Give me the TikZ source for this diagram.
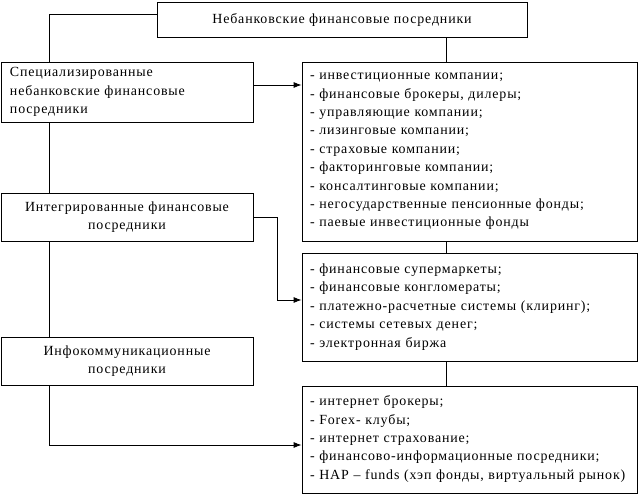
\documentclass[tikz,border=0pt]{standalone}
\usepackage{fontspec}
\setmainfont[LetterSpace=6]{Liberation Serif}
\usetikzlibrary{arrows.meta}
\begin{document}
\begin{tikzpicture}[x=1bp,y=-1bp,
  box/.style={draw, line width=0.8bp, fill=white, inner ysep=0pt,
    font=\fontsize{14}{18.4}\selectfont},
  listbox/.style={box, inner xsep=8bp, text width=319bp, minimum width=335bp, align=left},
  leftbox/.style={box, inner xsep=9bp, text width=234bp, minimum width=252bp},
  arr/.style={line width=0.8bp, -{Latex[length=8bp,width=6bp]}},
  ln/.style={line width=0.8bp}]
\useasboundingbox (0,0) rectangle (638,494);
\coordinate (L) at (49,0);
\coordinate (R) at (446,0);
\coordinate (y14) at (0,14);
\coordinate (y85) at (0,85);
\coordinate (y300) at (0,300);
\coordinate (y445) at (0,445);

\node[box, inner xsep=0pt, minimum width=370bp, minimum height=35bp] (top) at (342,19.5)
  {\raisebox{2.5bp}{Небанковские финансовые посредники}};

\node[leftbox, align=left, minimum height=60bp] (spec) at (127,92)
  {Специализированные\\небанковские финансовые\\посредники};
\node[leftbox, align=center, minimum height=48bp] (integ) at (127,217)
  {Интегрированные финансовые\\посредники};
\node[leftbox, align=center, minimum height=48bp] (info) at (127,361)
  {Инфокоммуникационные\\посредники};

\node[listbox, minimum height=179bp] (list1) at (469.5,151.5)
  {\raisebox{3bp}{\parbox[b]{319bp}{\raggedright\baselineskip=18.4bp
  - инвестиционные компании;\\
  - финансовые брокеры, дилеры;\\
  - управляющие компании;\\
  - лизинговые компании;\\
  - страховые компании;\\
  - факторинговые компании;\\
  - консалтинговые компании;\\
  - негосударственные пенсионные фонды;\\
  - паевые инвестиционные фонды}}};
\node[listbox, minimum height=108bp] (list2) at (469.5,307)
  {\raisebox{2bp}{\parbox[b]{319bp}{\raggedright\baselineskip=18.4bp
  - финансовые супермаркеты;\\
  - финансовые конгломераты;\\
  - платежно-расчетные системы (клиринг);\\
  - системы сетевых денег;\\
  - электронная биржа}}};
\node[listbox, minimum height=107bp] (list3) at (469.5,439.5)
  {\raisebox{4bp}{\parbox[b]{319bp}{\raggedright\baselineskip=18.4bp
  - интернет брокеры;\\
  - Forex- клубы;\\
  - интернет страхование;\\
  - финансово-информационные посредники;\\
  - HAP – funds (хэп фонды, виртуальный рынок)}}};

% left trunk
\draw[ln] (top.west |- y14) -- (L |- y14) -- (L |- spec.north);
\draw[ln] (L |- spec.south) -- (L |- integ.north);
\draw[ln] (L |- integ.south) -- (L |- info.north);
\draw[arr] (L |- info.south) -- (L |- y445) -- (list3.west |- y445);

% right trunk
\draw[ln] (R |- top.south) -- (R |- list1.north);
\draw[ln] (R |- list1.south) -- (R |- list2.north);
\draw[ln] (R |- list2.south) -- (R |- list3.north);

% arrows
\draw[arr] (spec.east |- y85) -- (list1.west |- y85);
\draw[arr] (integ.east) -- ++(24,0) |- (list2.west |- y300);
\end{tikzpicture}
\end{document}
